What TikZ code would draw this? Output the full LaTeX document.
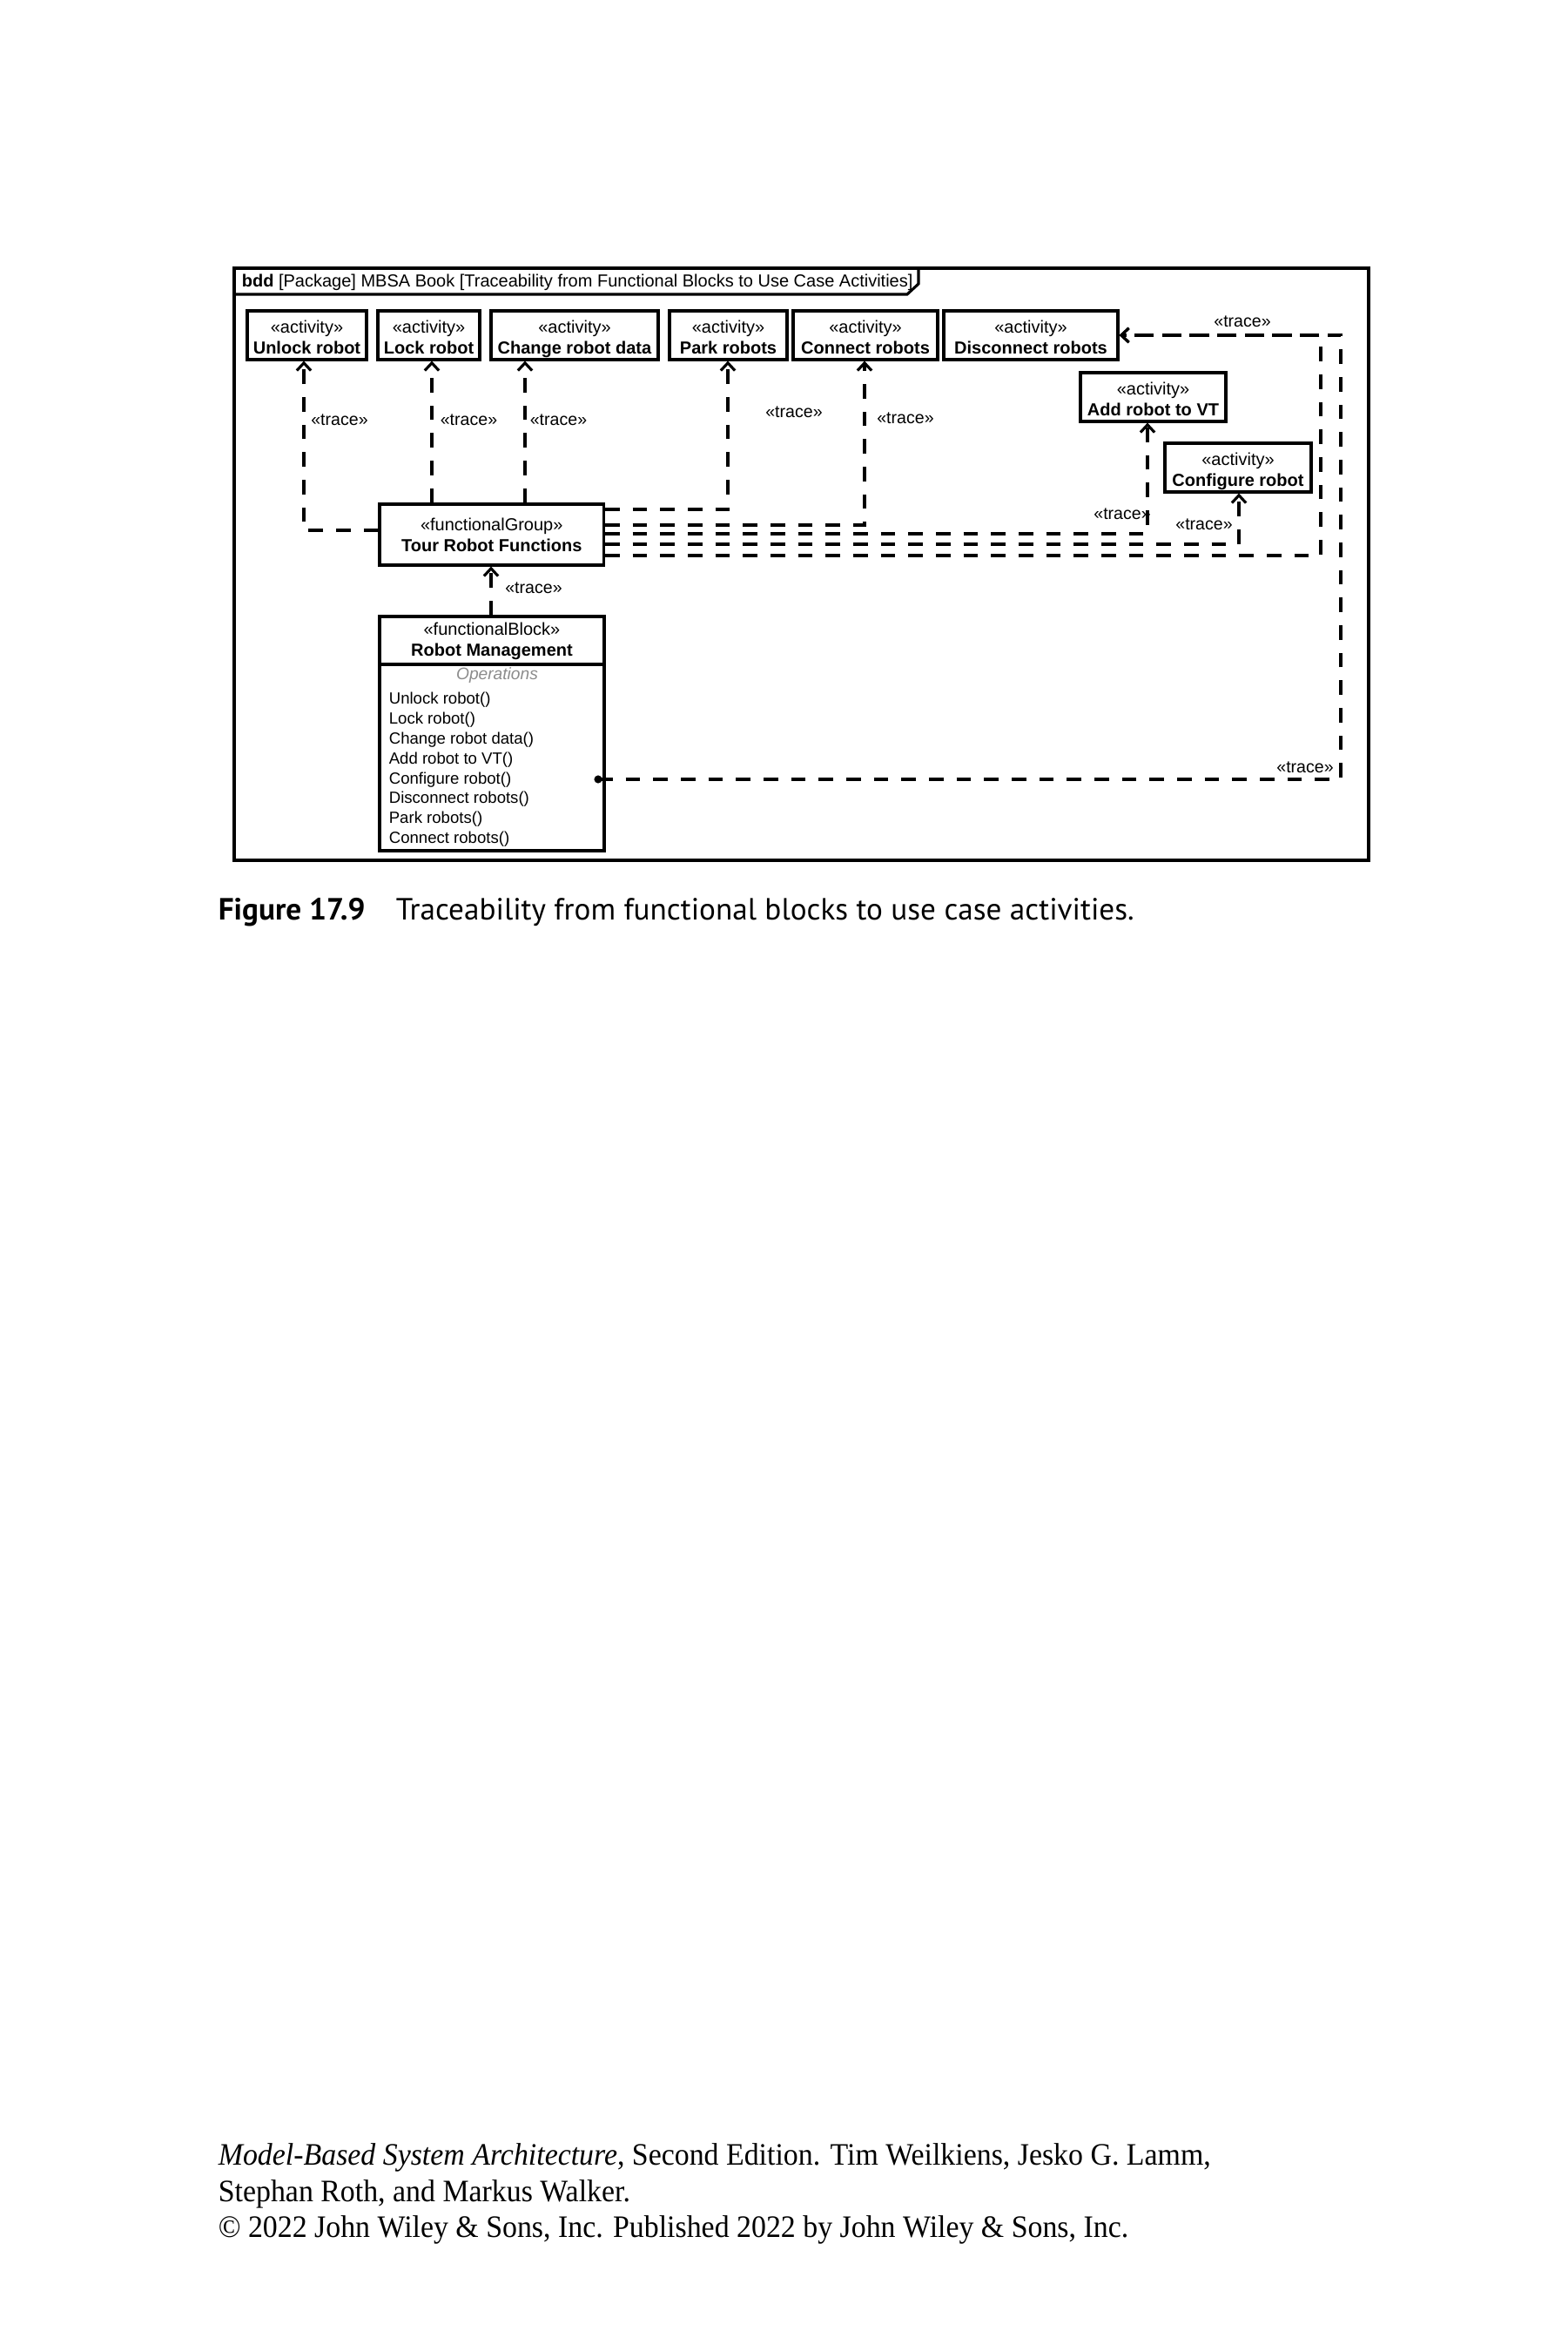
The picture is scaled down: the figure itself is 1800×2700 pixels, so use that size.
\documentclass[tikz,border=0pt]{standalone}
\usepackage{fontspec}
\setmainfont{Liberation Sans}
\newfontfamily\capfont{PT Sans}
\newfontfamily\footfont[FakeStretch=0.945]{Liberation Serif}
\usetikzlibrary{arrows.meta}
\newcommand\actlbl[1]{«activity»\rule{0pt}{5.4pt}\\\textbf{#1}\vphantom{g}}
\begin{document}
\begin{tikzpicture}[x=0.24pt,y=-0.24pt,
  umlfont/.style={font=\fontsize{4.8}{5.76}\selectfont},
  actbox/.style={draw, line width=0.75pt, inner sep=0pt, align=center, minimum height=56*0.24pt, umlfont},
  tracelbl/.style={font=\fontsize{4.7}{5.6}\selectfont, inner sep=0pt},
  opline/.style={anchor=base west, inner sep=0pt, font=\fontsize{4.46}{5.47}\selectfont},
  trace/.style={line width=0.75pt, dash pattern=on 4pt off 3.6pt, -{Straight Barb[length=2.1pt,width=3.9pt]}},
  footline/.style={anchor=base west, inner sep=0pt, font=\footfont\fontsize{8.6}{10}\selectfont},
]
\fill[white] (0,0) rectangle (1800,2700);
\useasboundingbox (0,0) rectangle (1800,2700);

% frame
\draw[line width=0.85pt] (269,308) rectangle (1572,988);
\draw[line width=0.75pt] (269,338) -- (1042,338) -- (1055,326) -- (1055,308);
\node[anchor=base west, inner sep=0pt, umlfont] (hdr) at (277,330) {\textbf{bdd} [Package] MBSA Book [Traceability from Functional Blocks to Use Case Activities]};

% activities
\node[actbox, minimum width=137*0.24pt] (unlock) at (352.5,385) {\actlbl{Unlock robot}};
\node[actbox, minimum width=117*0.24pt] (lock) at (492.5,385) {\actlbl{Lock robot}};
\node[actbox, minimum width=192*0.24pt] (change) at (660,385) {\actlbl{Change robot data}};
\node[actbox, minimum width=135*0.24pt] (park) at (836.5,385) {\actlbl{Park robots}};
\node[actbox, minimum width=166*0.24pt] (connect) at (994,385) {\actlbl{Connect robots}};
\node[actbox, minimum width=200*0.24pt] (disc) at (1184,385) {\actlbl{Disconnect robots}};
\node[actbox, minimum width=167*0.24pt] (addvt) at (1324.5,456) {\actlbl{Add robot to VT}};
\node[actbox, minimum width=168*0.24pt] (config) at (1422,537) {\actlbl{Configure robot}};

% functional group
\node[draw, line width=0.75pt, minimum width=257.5*0.24pt, minimum height=70*0.24pt, inner sep=0pt, umlfont, align=center] (tour) at (564.75,614) {«functionalGroup»\\\textbf{Tour Robot Functions}};

% functional block
\node[draw, line width=0.75pt, minimum width=258*0.24pt, minimum height=269*0.24pt, inner sep=0pt] (rm) at (565,842.5) {};
\node[umlfont, inner sep=0pt, align=center] (rmtitle) at (565,736) {«functionalBlock»\\\textbf{Robot Management}};
\draw[line width=0.75pt] (rm.west |- 0,763) -- (rm.east |- 0,763);
\node[inner sep=0pt, font=\fontsize{4.6}{5.5}\selectfont\itshape, text=black!45] (opstitle) at (571,776) {Operations};
\node[opline] (op1) at (446,808.8) {Unlock robot()};
\node[opline] (op2) at (446,831.6) {Lock robot()};
\node[opline] (op3) at (446,854.4) {Change robot data()};
\node[opline] (op4) at (446,877.2) {Add robot to VT()};
\node[opline] (op5) at (446,900) {Configure robot()};
\node[opline] (op6) at (446,922.8) {Disconnect robots()};
\node[opline] (op7) at (446,945.6) {Park robots()};
\node[opline] (op8) at (446,968.4) {Connect robots()};
\coordinate (cfgop) at (687,895);
\fill (cfgop) circle (1.1pt);

% traces
\draw[trace] (tour.west |- 0,609) -| (unlock.south -| 349,0);
\draw[trace] (tour.north -| 496,0) -- (lock.south -| 496,0);
\draw[trace] (tour.north -| 603,0) -- (change.south -| 603,0);
\draw[trace] (tour.east |- 0,585) -| (park.south -| 836,0);
\draw[trace] (tour.east |- 0,603) -| (connect.south -| 993,0);
\draw[trace] (tour.east |- 0,613) -| (addvt.south -| 1318,0);
\draw[trace] (tour.east |- 0,625) -| (config.south -| 1423,0);
\draw[trace] (tour.east |- 0,638) -| (1517,0 |- disc.east) -- (disc.east);
\draw[trace] (cfgop) -| (1540,0 |- disc.east) -- (disc.east);
\draw[trace] (rm.north -| 564,0) -- (tour.south -| 564,0);

% trace labels
\node[tracelbl] (t1) at (390,482) {«trace»};
\node[tracelbl] (t2) at (538.5,482) {«trace»};
\node[tracelbl] (t3) at (641.5,482) {«trace»};
\node[tracelbl] (t4) at (912,473) {«trace»};
\node[tracelbl] (t5) at (1040,480) {«trace»};
\node[tracelbl] (t6) at (1427,369) {«trace»};
\node[tracelbl] (t7) at (1289,590) {«trace»};
\node[tracelbl] (t8) at (1383,602) {«trace»};
\node[tracelbl] (t9) at (613,675) {«trace»};
\node[tracelbl] (t10) at (1499,881) {«trace»};

% caption
\node[anchor=base west, inner sep=0pt, font=\capfont\bfseries\fontsize{8.45}{10}\selectfont] (figno) at (250,1056) {Figure 17.9};
\node[anchor=base west, inner sep=0pt, font=\capfont\fontsize{8.45}{10}\selectfont] (captxt) at (454,1056) {Traceability from functional blocks to use case activities.};

% footer
\node[footline] (f1) at (250,2486) {\textit{Model-Based System Architecture}, Second Edition. Tim Weilkiens, Jesko G. Lamm,};
\node[footline] (f2) at (250,2528) {Stephan Roth, and Markus Walker.};
\node[footline] (f3) at (250,2569) {© 2022 John Wiley \& Sons, Inc. Published 2022 by John Wiley \& Sons, Inc.};
\end{tikzpicture}
\end{document}
